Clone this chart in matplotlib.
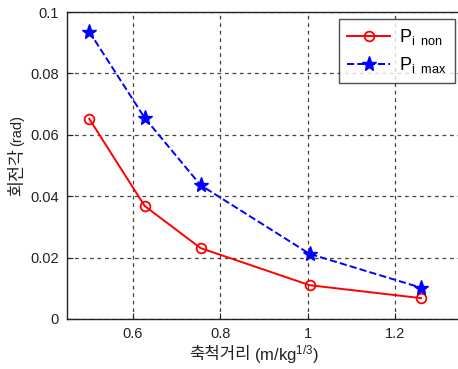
import matplotlib
matplotlib.use('Agg')
import matplotlib.pyplot as plt

plt.rcParams['font.family'] = ['Liberation Sans', 'Noto Sans CJK KR', 'DejaVu Sans']
plt.rcParams['mathtext.fontset'] = 'custom'
plt.rcParams['mathtext.rm'] = 'Liberation Sans'
plt.rcParams['mathtext.it'] = 'Liberation Sans'

# 축척거리 (m/kg^1/3)
scaled_dist = [0.5, 0.627, 0.755, 1.005, 1.26]
# 회전각 (rad)
p_non = [0.0652, 0.0368, 0.0231, 0.0110, 0.0068]
p_max = [0.0936, 0.0655, 0.0436, 0.0212, 0.0102]

xticks = [0.6, 0.8, 1.0, 1.2]
xticklabels = ['0.6', '0.8', '1', '1.2']
yticks = [0, 0.02, 0.04, 0.06, 0.08, 0.1]
yticklabels = ['0', '0.02', '0.04', '0.06', '0.08', '0.1']

W, H = 458, 369
fig = plt.figure(figsize=(W / 100, H / 100), dpi=100)
ax = fig.add_axes([67 / W, 1 - 319 / H, (466 - 67) / W, (319 - 12) / H])

ax.plot(scaled_dist, p_non, '-o', color='#ff0000', lw=1.4, ms=7,
        mfc='none', mec='#ff0000', mew=1.3, label=r'P$_{\mathregular{i\ \ non}}$')
ax.plot(scaled_dist, p_max, '--*', color='#0000ff', lw=1.4, ms=11,
        mfc='#0000ff', mec='#0000ff', label=r'P$_{\mathregular{i\ \ max}}$')

ax.set_xlim(0.449, 0.449 + (466 - 67) / 436.5)
ax.set_ylim(0, 0.1)
ax.set_xticks(xticks)
ax.set_xticklabels(xticklabels)
ax.set_yticks(yticks)
ax.set_yticklabels(yticklabels)
ax.tick_params(direction='in', length=4, labelsize=10.5, colors='#222222', pad=6)
ax.grid(True, color='#444444', linestyle=(0, (3, 3)), linewidth=0.9)
for s in ax.spines.values():
    s.set_linewidth(1.0)
    s.set_color('#222222')

leg = ax.legend(loc='upper right', bbox_to_anchor=(455 / W, 1 - 19 / H),
                bbox_transform=fig.transFigure, fontsize=13, frameon=True,
                fancybox=False, edgecolor='#222222', handlelength=2.4,
                borderpad=0.45, labelspacing=0.45, borderaxespad=0,
                handletextpad=0.5)
leg.get_frame().set_linewidth(1.0)

# 축 라벨 (한글 + 작은 단위)
fig.text(251 / W, 1 - 355 / H, '축척거리', ha='right', va='center',
         fontsize=12, family=['Noto Sans CJK KR'], color='#222222')
fig.text(254 / W, 1 - 355 / H, r'(m/kg$^{\mathregular{1/3}}$)', ha='left', va='center',
         fontsize=12, color='#222222')
fig.text(17 / W, 1 - 148 / H, '회전각', ha='center', va='top', rotation=90,
         fontsize=12.5, family=['Noto Sans CJK KR'], color='#222222')
fig.text(17 / W, 1 - 146 / H, '(rad)', ha='center', va='bottom', rotation=90,
         fontsize=10.5, color='#222222')

fig.savefig('out.png', dpi=100, facecolor='white')
